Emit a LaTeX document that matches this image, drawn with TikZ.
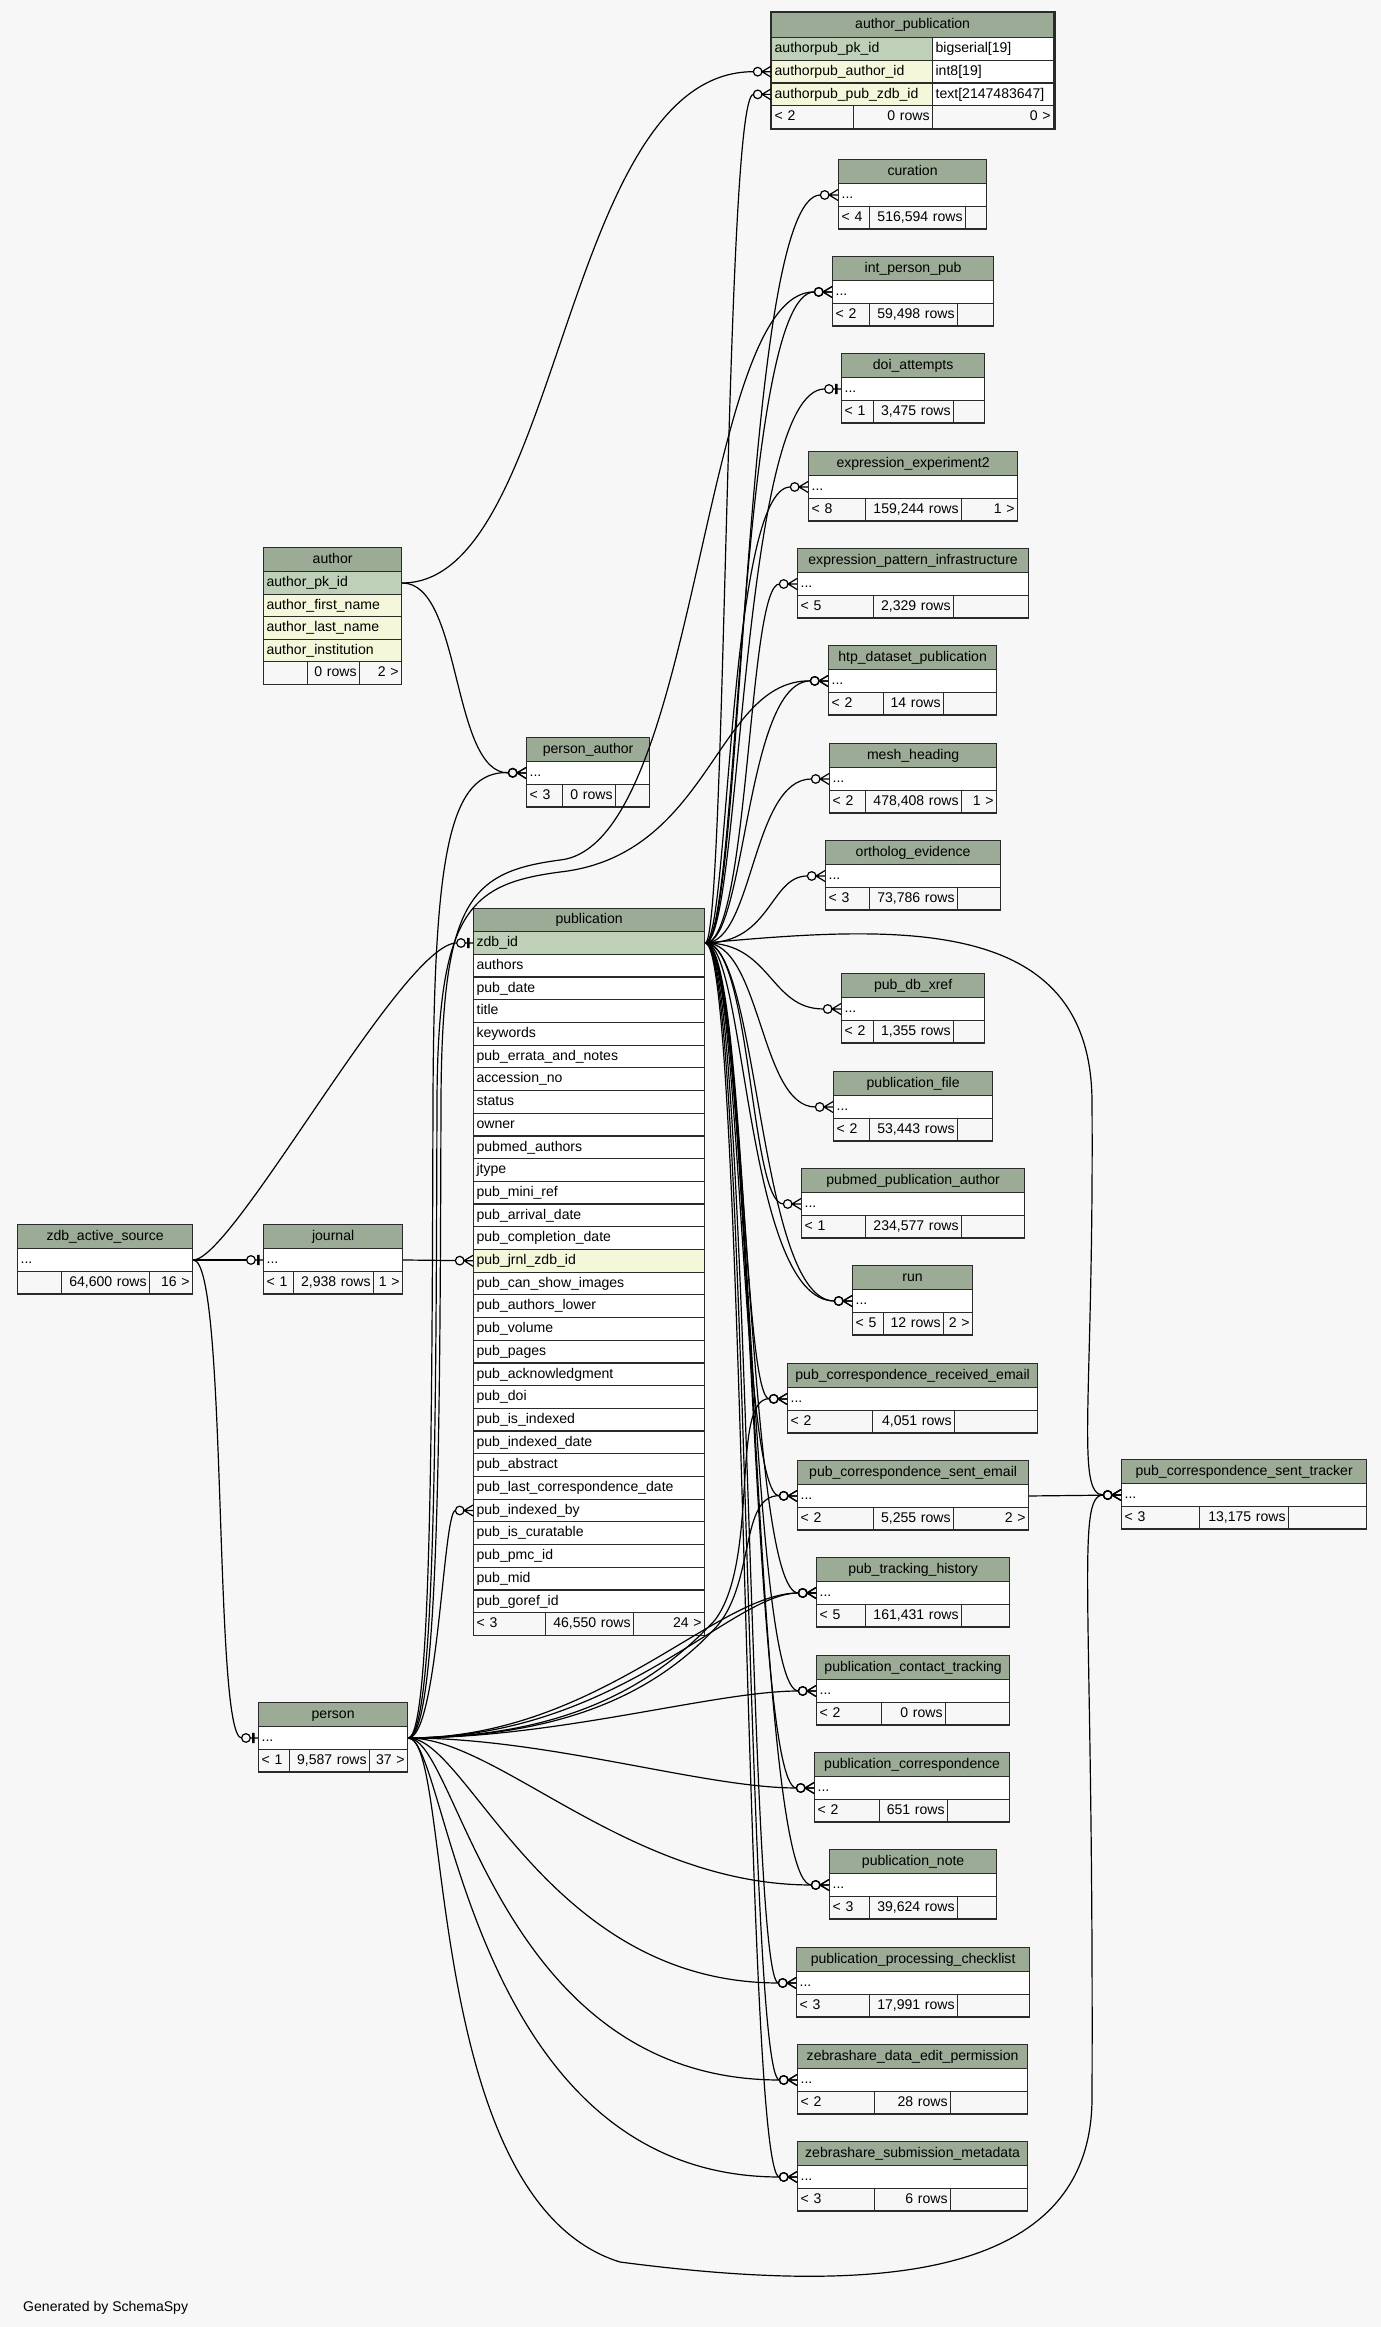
\documentclass[tikz,border=0pt]{standalone}
\usepackage{fontspec}
\setmainfont{Liberation Sans}
\usepackage{xcolor}
\definecolor{pagebg}{HTML}{F7F7F7}
\definecolor{headgreen}{HTML}{9BAB96}
\definecolor{keygreen}{HTML}{BED1B8}
\definecolor{idxyellow}{HTML}{F4F7DA}
\definecolor{gridline}{HTML}{2A2A2A}
\usepackage{tikz}
\usetikzlibrary{arrows.meta,positioning,calc}

\newdimen\pxu \pxu=0.02cm

% zero-or-many end: crow's foot plus open circle
\pgfdeclarearrow{
  name = CrowDot,
  setup code = {
    \pgfarrowssettipend{0pt}
    \pgfarrowssetlineend{-10.0pt}
    \pgfarrowssetbackend{-10.0pt}
  },
  drawing code = {
    \pgfpathcircle{\pgfpoint{-7.57pt}{0pt}}{2.45pt}
    \pgfpathmoveto{\pgfpoint{0pt}{3.1pt}}
    \pgfpathlineto{\pgfpoint{-5.1pt}{0pt}}
    \pgfpathlineto{\pgfpoint{0pt}{-3.1pt}}
    \pgfpathmoveto{\pgfpoint{-5.1pt}{0pt}}
    \pgfpathlineto{\pgfpoint{0pt}{0pt}}
    \pgfusepathqstroke
  }
}
% zero-or-one end: open circle plus bar
\pgfdeclarearrow{
  name = DotBar,
  setup code = {
    \pgfarrowssettipend{0pt}
    \pgfarrowssetlineend{-9.3pt}
    \pgfarrowssetbackend{-9.3pt}
  },
  drawing code = {
    \pgfpathcircle{\pgfpoint{-6.85pt}{0pt}}{2.45pt}
    \pgfpathmoveto{\pgfpoint{-4.4pt}{0pt}}
    \pgfpathlineto{\pgfpoint{0pt}{0pt}}
    \pgfpathmoveto{\pgfpoint{-3.0pt}{-2.9pt}}
    \pgfpathlineto{\pgfpoint{-3.0pt}{2.9pt}}
    \pgfpathmoveto{\pgfpoint{-2.3pt}{-2.9pt}}
    \pgfpathlineto{\pgfpoint{-2.3pt}{2.9pt}}
    \pgfusepathqstroke
  }
}

% footer: name, left, split1, split2, right, top, left text, rows, children
\newcommand{\dbfoot}[9]{%
  \pgfmathsetlengthmacro{\wa}{(#3-#2-6)*\pxu}%
  \pgfmathsetlengthmacro{\wb}{(#4-#3-6)*\pxu}%
  \pgfmathsetlengthmacro{\wc}{(#5-#4-6)*\pxu}%
  \node[tfoot, text width=\wa, align=left] (#1-fl) at (#2,#6) {#7};
  \node[tfoot, text width=\wb, align=right] (#1-fm) at (#3,#6) {#8};
  \node[tfoot, text width=\wc, align=right] (#1-fr) at (#4,#6) {#9};
}
% collapsed table: name, left, top, right, title, split1, split2, left text, {rows}{children}
\newcommand{\dbtable}[9]{%
  \pgfmathsetlengthmacro{\tw}{(#4-#2)*\pxu}%
  \pgfmathsetlengthmacro{\ttw}{(#4-#2-6)*\pxu}%
  \pgfmathsetmacro{\yr}{#3+24}%
  \pgfmathsetmacro{\yf}{#3+46.7}%
  \node[hdr, minimum width=\tw] (#1) at (#2,#3) {#5};
  \node[trow, text width=\ttw] (#1-dots) at (#2,\yr) {...};
  \dbfoot{#1}{#2}{#6}{#7}{#4}{\yf}{#8}#9%
}

\begin{document}
\begin{tikzpicture}[x=0.02cm, y=-0.02cm,
    font=\fontsize{8pt}{9.6pt}\selectfont,
    tcell/.style={draw=gridline, line width=0.7pt, inner xsep=1.707pt, inner ysep=0pt,
                  text height=6pt, text depth=1.7pt, anchor=north west},
    hdr/.style={tcell, fill=headgreen, minimum height=13.66pt, align=center},
    trow/.style={tcell, fill=white, minimum height=12.92pt, align=left},
    tfoot/.style={tcell, fill=pagebg, minimum height=12.92pt},
    fk/.style={-CrowDot, line width=0.68pt, black},
    zo/.style={-DotBar, line width=0.68pt, black}
  ]
  \fill[pagebg] (0,0) rectangle (1381,2327);

  % author_publication
  \pgfmathsetlengthmacro{\apw}{282*\pxu}
  \pgfmathsetlengthmacro{\apa}{(161-6)*\pxu}
  \pgfmathsetlengthmacro{\apb}{(121-6)*\pxu}
  \node[hdr, minimum width=\apw, minimum height=14.2pt] (ap) at (771,12) {author\_publication};
  \foreach \c/\f/\d [count=\i from 0] in {authorpub\_pk\_id/keygreen/bigserial[19],
      authorpub\_author\_id/idxyellow/int8[19], authorpub\_pub\_zdb\_id/idxyellow/text[2147483647]} {
    \node[trow, fill=\f, text width=\apa] (ap-\i) at (771,{37+\i*22.7}) {\c};
    \node[trow, text width=\apb] (ap-\i t) at (932,{37+\i*22.7}) {\d};
  }
  \dbfoot{ap}{771}{853}{932}{1053}{105.1}{< 2}{0 rows}{0 >}
  \draw[gridline, line width=1.5pt] (ap.north west) rectangle (ap-fr.south east);

  % author
  \pgfmathsetlengthmacro{\auw}{138*\pxu}
  \pgfmathsetlengthmacro{\autw}{132*\pxu}
  \node[hdr, minimum width=\auw] (au) at (263,547) {author};
  \foreach \c/\f [count=\i from 0] in {author\_pk\_id/keygreen, author\_first\_name/idxyellow,
      author\_last\_name/idxyellow, author\_institution/idxyellow}
    \node[trow, fill=\f, text width=\autw] (au-\i) at (263,{571+\i*22.5}) {\c};
  \dbfoot{au}{263}{307}{359}{401}{661}{}{0 rows}{2 >}

  % publication
  \pgfmathsetlengthmacro{\pubw}{231*\pxu}
  \pgfmathsetlengthmacro{\pubtw}{225*\pxu}
  \node[hdr, minimum width=\pubw, minimum height=13.1pt] (pub) at (473,908) {publication};
  \foreach \c/\f [count=\i from 0] in {zdb\_id/keygreen, authors/white, pub\_date/white,
      title/white, keywords/white, pub\_errata\_and\_notes/white, accession\_no/white,
      status/white, owner/white, pubmed\_authors/white, jtype/white, pub\_mini\_ref/white,
      pub\_arrival\_date/white, pub\_completion\_date/white, pub\_jrnl\_zdb\_id/idxyellow,
      pub\_can\_show\_images/white, pub\_authors\_lower/white, pub\_volume/white,
      pub\_pages/white, pub\_acknowledgment/white, pub\_doi/white, pub\_is\_indexed/white,
      pub\_indexed\_date/white, pub\_abstract/white, pub\_last\_correspondence\_date/white,
      pub\_indexed\_by/white, pub\_is\_curatable/white, pub\_pmc\_id/white, pub\_mid/white,
      pub\_goref\_id/white}
    \node[trow, fill=\f, text width=\pubtw] (pub-\i) at (473,{931+\i*22.7}) {\c};
  \dbfoot{pub}{473}{545}{633}{704}{1612}{< 3}{46,550 rows}{24 >}

  % collapsed tables
  \dbtable{zas}{17}{1224}{192}{zdb\_active\_source}{61}{149}{}{{64,600 rows}{16 >}}
  \dbtable{jrnl}{263}{1224}{402}{journal}{293}{373}{< 1}{{2,938 rows}{1 >}}
  \dbtable{pers}{258}{1702}{407}{person}{289}{369}{< 1}{{9,587 rows}{37 >}}
  \dbtable{pa}{526}{737}{649}{person\_author}{562}{615}{< 3}{{0 rows}{}}
  \dbtable{cur}{838}{159}{986}{curation}{869}{965}{< 4}{{516,594 rows}{}}
  \dbtable{ipp}{832}{256}{993}{int\_person\_pub}{869}{957}{< 2}{{59,498 rows}{}}
  \dbtable{doi}{841}{353}{984}{doi\_attempts}{873}{953}{< 1}{{3,475 rows}{}}
  \dbtable{ee2}{808}{451}{1017}{expression\_experiment2}{865}{961}{< 8}{{159,244 rows}{1 >}}
  \dbtable{epi}{797}{548}{1028}{expression\_pattern\_infrastructure}{873}{953}{< 5}{{2,329 rows}{}}
  \dbtable{htp}{828}{645}{996}{htp\_dataset\_publication}{883}{943}{< 2}{{14 rows}{}}
  \dbtable{mesh}{829}{743}{996}{mesh\_heading}{865}{961}{< 2}{{478,408 rows}{1 >}}
  \dbtable{orth}{825}{840}{1000}{ortholog\_evidence}{869}{957}{< 3}{{73,786 rows}{}}
  \dbtable{xref}{841}{973}{984}{pub\_db\_xref}{873}{953}{< 2}{{1,355 rows}{}}
  \dbtable{pfile}{833}{1071}{992}{publication\_file}{869}{957}{< 2}{{53,443 rows}{}}
  \dbtable{ppa}{801}{1168}{1024}{pubmed\_publication\_author}{865}{961}{< 1}{{234,577 rows}{}}
  \dbtable{run}{852}{1265}{972}{run}{883}{943}{< 5}{{12 rows}{2 >}}
  \dbtable{pcre}{787}{1363}{1037}{pub\_correspondence\_received\_email}{872}{954}{< 2}{{4,051 rows}{}}
  \dbtable{pcse}{797}{1460}{1028}{pub\_correspondence\_sent\_email}{873}{953}{< 2}{{5,255 rows}{2 >}}
  \dbtable{pth}{816}{1557}{1009}{pub\_tracking\_history}{865}{961}{< 5}{{161,431 rows}{}}
  \dbtable{pct}{816}{1655}{1009}{publication\_contact\_tracking}{881}{945}{< 2}{{0 rows}{}}
  \dbtable{pcorr}{814}{1752}{1009}{publication\_correspondence}{879}{947}{< 2}{{651 rows}{}}
  \dbtable{pnote}{829}{1849}{996}{publication\_note}{869}{957}{< 3}{{39,624 rows}{}}
  \dbtable{ppc}{796}{1947}{1029}{publication\_processing\_checklist}{869}{957}{< 3}{{17,991 rows}{}}
  \dbtable{zdep}{797}{2044}{1027}{zebrashare\_data\_edit\_permission}{874}{950}{< 2}{{28 rows}{}}
  \dbtable{zsm}{797}{2141}{1027}{zebrashare\_submission\_metadata}{874}{950}{< 3}{{6 rows}{}}
  \dbtable{pcst}{1121}{1459}{1366}{pub\_correspondence\_sent\_tracker}{1199}{1288}{< 3}{{13,175 rows}{}}

  % relationships
  \draw[fk] (au-0.east) .. controls +(160,0) and +(-210,0) .. (ap-1.west);
  \draw[fk] (au-0.east) .. controls +(60,0) and +(-75,0) .. (pa-dots.west);
  \draw[zo] (zas-dots.east) -- (jrnl-dots.west);
  \draw[zo] (zas-dots.east) .. controls +(40,0) and +(-70,0) .. (pub-0.west);
  \draw[zo] (zas-dots.east) .. controls +(35,0) and +(-45,0) .. (pers-dots.west);
  \draw[fk] (jrnl-dots.east) -- (pub-14.west);

  % publication.zdb_id fan-out
  \foreach \t/\a/\b in {ap-2/21/46, cur-dots/38/96, ipp-dots/34/94, ee2-dots/24/80,
      epi-dots/44/49, htp-dots/41/83, mesh-dots/48/77, orth-dots/66/55, xref-dots/66/71,
      pfile-dots/56/73, ppa-dots/46/51, run-dots/54/94, run-dots/41/107, pcre-dots/38/45,
      pcse-dots/36/57, pth-dots/42/70, pct-dots/44/68, pcorr-dots/46/64, pnote-dots/48/77,
      ppc-dots/44/48, zdep-dots/42/51, zsm-dots/40/53}
    \draw[fk] (pub-0.east) .. controls +(\a,0) and +(-\b,0) .. (\t.west);
  \draw[zo] (pub-0.east) .. controls +(36,0) and +(-101,0) .. (doi-dots.west);
  \draw[fk] (pub-0.east) .. controls (900,925) and (1090,915) .. (1092,1100)
    .. controls (1094,1400) and (1075,1495) .. (pcst-dots.west);
  \draw[fk] (pcse-dots.east) -- (pcst-dots.west);

  % person fan-out
  \draw[fk] (pers-dots.east) .. controls (432,1737) and (432,1400) .. (433,1100)
    .. controls (434,850) and (450,771) .. (pa-dots.west);
  \draw[fk] (pers-dots.east) .. controls +(30,0) and +(-30,0) .. (pub-25.west);
  \draw[fk] (pers-dots.east) .. controls (560,1737) and (650,1690) .. (715,1620)
    .. controls (760,1560) and (730,1398) .. (pcre-dots.west);
  \draw[fk] (pers-dots.east) .. controls (560,1737) and (655,1695) .. (718,1625)
    .. controls (755,1580) and (740,1495) .. (pcse-dots.west);
  \foreach \t/\a/\b in {pth-dots/190/100, pth-dots/210/85, pct-dots/150/100,
      pcorr-dots/140/110, pnote-dots/90/200, ppc-dots/60/250, zdep-dots/50/300,
      zsm-dots/40/330}
    \draw[fk] (pers-dots.east) .. controls +(\a,0) and +(-\b,0) .. (\t.west);
  \draw[fk] (pers-dots.east) .. controls (440,1737) and (440,1400) .. (441,1100)
    .. controls (442,900) and (470,872) .. (560,860)
    .. controls (700,845) and (700,291) .. (ipp-dots.west);
  \draw[fk] (pers-dots.east) .. controls (436,1737) and (436,1400) .. (437,1100)
    .. controls (438,910) and (470,884) .. (560,872)
    .. controls (712,855) and (716,680) .. (htp-dots.west);
  \draw[fk] (pers-dots.east) .. controls +(45,0) and (420,2200) .. (620,2262)
    .. controls (850,2292) and (1090,2290) .. (1092,2100)
    .. controls (1094,1600) and (1075,1495) .. (pcst-dots.west);

  \node[anchor=west] (credit) at (17,2308) {Generated by SchemaSpy};
\end{tikzpicture}
\end{document}
